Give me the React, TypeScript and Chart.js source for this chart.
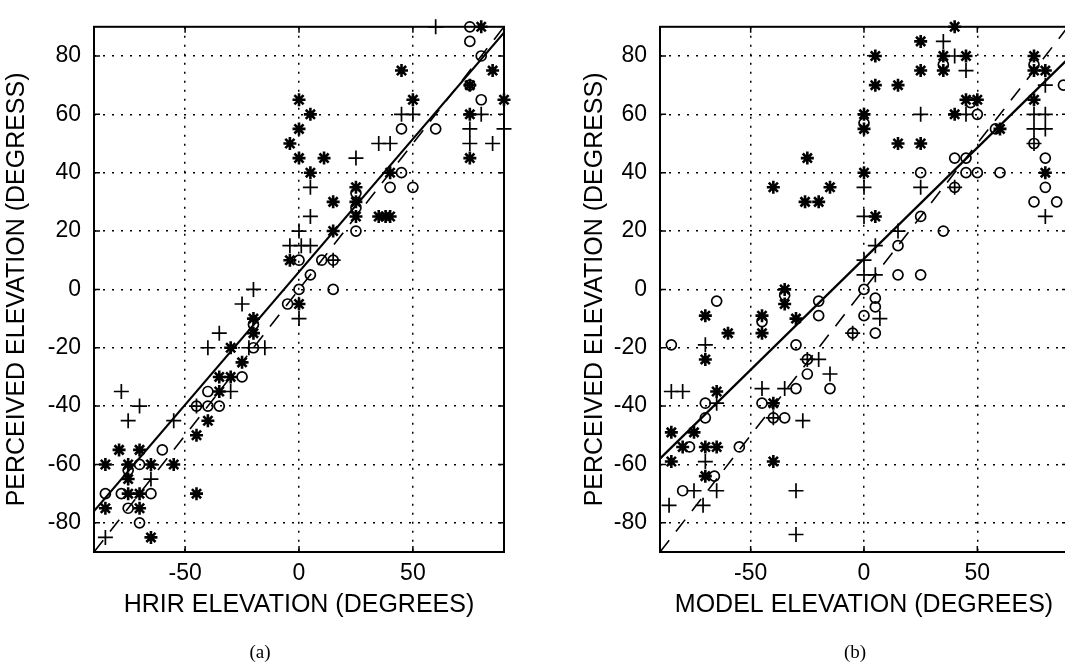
import React, { useEffect, useRef } from 'react';
import { Chart, registerables } from 'chart.js';

Chart.register(...registerables);

// ---------- tick labels ----------
const xTickValues = [-50, 0, 50];
const yTickValues = [-80, -60, -40, -20, 0, 20, 40, 60, 80];

// ---------- panel (a): HRIR elevation vs perceived elevation ----------
const hrirAsterisk: [number, number][] = [
  [80, 90], [45, 75], [85, 75], [75, 70], [90, 65], [50, 65], [75, 60], [75, 45],
  [0, 65], [5, 60], [0, 55], [-4, 50], [0, 45], [11, 45], [5, 40], [40, 40],
  [25, 35], [25, 30], [25, 25], [15, 30], [35, 25], [38, 25], [40, 25], [15, 20],
  [-4, 10], [0, -5], [-20, -10], [-20, -15], [-30, -20], [-25, -25], [-30, -30],
  [-35, -30], [-35, -35], [-40, -45], [-45, -50], [-55, -60], [-79, -55], [-70, -55],
  [-85, -60], [-75, -60], [-65, -60], [-75, -65], [-75, -70], [-70, -70], [-85, -75],
  [-70, -75], [-65, -85], [-45, -70],
];
const hrirCircle: [number, number][] = [
  [75, 90], [75, 85], [80, 80], [75, 70], [80, 65], [45, 55], [60, 55], [45, 40],
  [40, 35], [50, 35], [25, 33], [25, 28], [25, 20], [0, 10], [10, 10], [15, 10],
  [5, 5], [15, 0], [0, 0], [-5, -5], [-20, -12], [-20, -20], [-25, -30], [-40, -35],
  [-45, -40], [-40, -40], [-35, -40], [-60, -55], [-70, -60], [-75, -62], [-85, -70],
  [-78, -70], [-65, -70], [-75, -75], [-70, -80],
];
const hrirPlus: [number, number][] = [
  [60, 90], [50, 60], [45, 60], [80, 60], [75, 55], [75, 50], [85, 50], [90, 55],
  [5, 35], [35, 50], [40, 50], [25, 45], [5, 25], [0, 20], [-4, 15], [1, 15], [5, 15],
  [15, 10], [-20, 0], [-25, -5], [0, -10], [-22, -20], [-15, -20], [-35, -15],
  [-40, -20], [-30, -35], [-45, -40], [-55, -45], [-78, -35], [-70, -40], [-75, -45],
  [-65, -65], [-85, -85],
];
const hrirFit: [number, number][] = [[-90, -76], [90, 88]];

// ---------- panel (b): model elevation vs perceived elevation ----------
const modelAsterisk: [number, number][] = [
  [-25, 45], [-40, 35], [-26, 30], [-20, 30], [-15, 35], [40, 90], [25, 85], [5, 80],
  [35, 80], [45, 80], [25, 75], [35, 75], [5, 70], [15, 70], [45, 65], [50, 65],
  [0, 60], [0, 55], [40, 60], [15, 50], [25, 50], [60, 55], [0, 40], [5, 25],
  [75, 80], [75, 75], [80, 75], [75, 65], [80, 40], [-35, 0], [-35, -5], [-70, -9],
  [-45, -9], [-45, -15], [-30, -10], [-60, -15], [-70, -24], [-65, -35], [-40, -39],
  [-85, -49], [-75, -49], [-80, -54], [-70, -54], [-65, -54], [-85, -59], [-40, -59],
  [-70, -64],
];
const modelCircle: [number, number][] = [
  [35, 77], [47, 64], [0, 57], [50, 60], [58, 55], [40, 45], [45, 45], [45, 40],
  [50, 40], [60, 40], [25, 40], [40, 35], [25, 25], [35, 20], [15, 15], [15, 5],
  [25, 5], [75, 77], [88, 70], [75, 50], [80, 45], [80, 35], [75, 30], [85, 30],
  [0, 0], [5, -3], [5, -6], [0, -9], [5, -15], [-5, -15], [-35, -2], [-65, -4],
  [-45, -11], [-20, -4], [-20, -9], [-85, -19], [-30, -19], [-25, -24], [-25, -29],
  [-15, -34], [-30, -34], [-70, -39], [-45, -39], [-40, -44], [-35, -44], [-70, -44],
  [-77, -54], [-55, -54], [-66, -64], [-80, -69],
];
const modelPlus: [number, number][] = [
  [35, 85], [40, 80], [45, 75], [25, 60], [45, 60], [0, 35], [25, 35], [40, 35],
  [0, 25], [15, 20], [5, 15], [0, 10], [0, 5], [5, 5], [80, 70], [75, 60], [80, 60],
  [75, 55], [80, 55], [75, 50], [80, 25], [7, -10], [-5, -15], [-70, -19], [-25, -24],
  [-20, -24], [-15, -29], [-35, -34], [-45, -34], [-85, -35], [-80, -35], [-65, -39],
  [-40, -44], [-27, -45], [-70, -59], [-75, -69], [-65, -69], [-30, -69], [-86, -74],
  [-71, -74], [-30, -84],
];
const modelFit: [number, number][] = [[-90, -58], [90, 79]];

// ---------- shared ----------
const identityLine: [number, number][] = [[-90, -90], [90, 90]];
const yTitle = 'PERCEIVED ELEVATION (DEGRESS)';
const xTitleA = 'HRIR ELEVATION (DEGREES)';
const xTitleB = 'MODEL ELEVATION (DEGREES)';

const SANS = '"Liberation Sans", Arial, Helvetica, sans-serif';

const toPts = (arr: [number, number][]) => arr.map(([x, y]) => ({ x, y }));

const framePlugin = {
  id: 'frame',
  afterDatasetsDraw(chart: any) {
    const { ctx, chartArea: a, scales } = chart;
    ctx.save();
    ctx.strokeStyle = '#000';
    ctx.lineWidth = 2;
    ctx.strokeRect(a.left, a.top, a.right - a.left, a.bottom - a.top);
    ctx.lineWidth = 1.5;
    const tl = 6;
    ctx.beginPath();
    xTickValues.forEach((v) => {
      const p = scales.x.getPixelForValue(v);
      ctx.moveTo(p, a.bottom);
      ctx.lineTo(p, a.bottom - tl);
      ctx.moveTo(p, a.top);
      ctx.lineTo(p, a.top + tl);
    });
    yTickValues.forEach((v) => {
      const p = scales.y.getPixelForValue(v);
      ctx.moveTo(a.left, p);
      ctx.lineTo(a.left + tl, p);
      ctx.moveTo(a.right, p);
      ctx.lineTo(a.right - tl, p);
    });
    ctx.stroke();
    ctx.restore();
  },
};

type PanelProps = {
  star: [number, number][];
  circle: [number, number][];
  plus: [number, number][];
  fit: [number, number][];
  xTitle: string;
  width: number;
  pad: { left: number; top: number; right: number; bottom: number };
  yAxisWidth: number;
};

function Panel(props: PanelProps) {
  const ref = useRef<HTMLCanvasElement | null>(null);
  useEffect(() => {
    if (!ref.current) return;
    const markerBase = { borderColor: '#000', backgroundColor: 'rgba(0,0,0,0)', clip: false as any };
    const chart = new Chart(ref.current, {
      type: 'scatter',
      data: {
        datasets: [
          { ...markerBase, data: toPts(props.star), pointStyle: 'star', pointRadius: 6.5, borderWidth: 2.6 } as any,
          { ...markerBase, data: toPts(props.circle), pointStyle: 'circle', pointRadius: 5, borderWidth: 1.7 } as any,
          { ...markerBase, data: toPts(props.plus), pointStyle: 'cross', pointRadius: 7.5, borderWidth: 1.7 } as any,
          {
            type: 'line', data: toPts(props.fit), borderColor: '#000', borderWidth: 2.2,
            pointRadius: 0, fill: false, tension: 0,
          } as any,
          {
            type: 'line', data: toPts(identityLine), borderColor: '#000', borderWidth: 1.6,
            borderDash: [15, 11], pointRadius: 0, fill: false, tension: 0,
          } as any,
        ],
      },
      options: {
        animation: false,
        responsive: false,
        events: [],
        layout: { padding: props.pad },
        plugins: { legend: { display: false }, tooltip: { enabled: false } },
        scales: {
          x: {
            type: 'linear',
            min: -90,
            max: 90,
            afterBuildTicks: (axis: any) => { axis.ticks = xTickValues.map((v) => ({ value: v })); },
            afterFit: (s: any) => { s.height = 70; },
            grid: { color: '#000', lineWidth: 1.5, drawTicks: false },
            border: { display: false, dash: [2, 7] },
            ticks: { color: '#000', padding: 8, font: { family: SANS, size: 23 }, autoSkip: false, maxRotation: 0 },
            title: { display: true, text: props.xTitle, color: '#000', font: { family: SANS, size: 25 }, padding: { top: 0, bottom: 2 } },
          },
          y: {
            type: 'linear',
            min: -90,
            max: 90,
            afterBuildTicks: (axis: any) => { axis.ticks = yTickValues.map((v) => ({ value: v })); },
            afterFit: (s: any) => { s.width = props.yAxisWidth; },
            grid: { color: '#000', lineWidth: 1.5, drawTicks: false },
            border: { display: false, dash: [2, 7] },
            ticks: { color: '#000', padding: 13, font: { family: SANS, size: 23 }, autoSkip: false },
            title: { display: true, text: yTitle, color: '#000', font: { family: SANS, size: 25 }, padding: { top: 2, bottom: 0 } },
          },
        },
      } as any,
      plugins: [framePlugin],
    });
    return () => chart.destroy();
  }, []);
  return <canvas ref={ref} width={props.width} height={667} style={{ display: 'block', width: props.width, height: 667 }} />;
}

export default function App() {
  return (
    <div style={{ position: 'fixed', left: 0, top: 0, width: 1065, height: 667, overflow: 'hidden', background: '#fff' }}>
      <div style={{ position: 'absolute', left: 0, top: 0 }}>
        <Panel
          star={hrirAsterisk}
          circle={hrirCircle}
          plus={hrirPlus}
          fit={hrirFit}
          xTitle={xTitleA}
          width={530}
          pad={{ left: 0, top: 13, right: 26, bottom: 45 }}
          yAxisWidth={94}
        />
      </div>
      <div style={{ position: 'absolute', left: 540, top: 0 }}>
        <Panel
          star={modelAsterisk}
          circle={modelCircle}
          plus={modelPlus}
          fit={modelFit}
          xTitle={xTitleB}
          width={560}
          pad={{ left: 38, top: 17, right: 32, bottom: 45 }}
          yAxisWidth={82}
        />
      </div>
      <div style={{ position: 'absolute', left: 210, top: 640, width: 100, textAlign: 'center', fontFamily: '"Liberation Serif", "Times New Roman", serif', fontSize: 19, lineHeight: '24px' }}>(a)</div>
      <div style={{ position: 'absolute', left: 805, top: 640, width: 100, textAlign: 'center', fontFamily: '"Liberation Serif", "Times New Roman", serif', fontSize: 19, lineHeight: '24px' }}>(b)</div>
    </div>
  );
}
